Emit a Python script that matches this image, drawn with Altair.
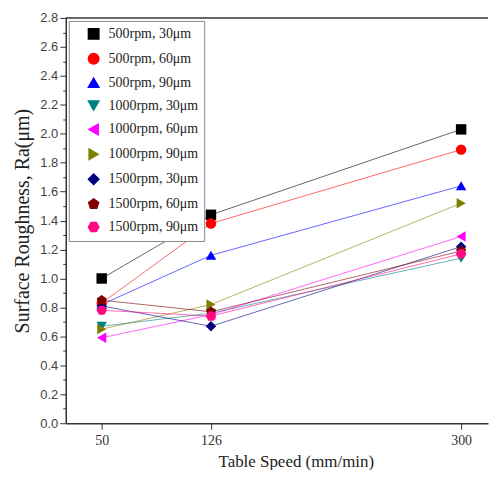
import altair as alt
import pandas as pd

speeds = [50, 126, 300]
series = ["500rpm, 30μm", "500rpm, 60μm", "500rpm, 90μm",
          "1000rpm, 30μm", "1000rpm, 60μm", "1000rpm, 90μm",
          "1500rpm, 30μm", "1500rpm, 60μm", "1500rpm, 90μm"]
s500_30 = [1.00, 1.44, 2.03]
s500_60 = [0.83, 1.38, 1.89]
s500_90 = [0.82, 1.16, 1.64]
s1000_30 = [0.67, 0.76, 1.14]
s1000_60 = [0.59, 0.75, 1.29]
s1000_90 = [0.65, 0.82, 1.52]
s1500_30 = [0.81, 0.67, 1.22]
s1500_60 = [0.85, 0.77, 1.19]
s1500_90 = [0.78, 0.74, 1.17]
all_vals = [s500_30, s500_60, s500_90, s1000_30, s1000_60, s1000_90,
            s1500_30, s1500_60, s1500_90]

colors = ["#000000", "#FF0000", "#0000FF", "#008080", "#FF00FF",
          "#808000", "#000080", "#800000", "#FF0A80"]
pent = "M0,-1L0.951,-0.309L0.588,0.809L-0.588,0.809L-0.951,-0.309Z"
hexa = "M-1,0L-0.5,-0.866L0.5,-0.866L1,0L0.5,0.866L-0.5,0.866Z"
shapes = ["square", "circle", "triangle-up", "triangle-down", "triangle-left",
          "triangle-right", "diamond", pent, hexa]

y_ticks = [round(i * 0.1, 1) for i in range(29)]

rows = []
for name, vals in zip(series, all_vals):
    for s, v in zip(speeds, vals):
        rows.append({"series": name, "speed": s, "ra": v})
df = pd.DataFrame(rows)

x_scale = alt.Scale(domain=[25, 318.7], nice=False, zero=False)
y_scale = alt.Scale(domain=[0, 2.8], nice=False)
x_axis = alt.Axis(values=speeds, title="Table Speed (mm/min)",
                  labelFont="Liberation Serif", labelFontSize=14,
                  titleFont="Liberation Serif", titleFontSize=17,
                  titleFontWeight="normal", titleX=231,
                  tickSize=6, labelPadding=4, titlePadding=6,
                  grid=False, domainColor="#333", domainWidth=1.5,
                  tickColor="#333", labelColor="#333", titleColor="#222")
y_axis = alt.Axis(values=y_ticks, title="Surface Roughness, Ra(μm)",
                  labelExpr="round(datum.value*10)%2===0 ? format(datum.value,'.1f') : ''",
                  labelOverlap=False,
                  tickSize={"condition": {"test": "round(datum.value*10)%2===1", "value": 3}, "value": 6},
                  labelFont="Liberation Sans", labelFontSize=13,
                  titleFont="Liberation Serif", titleFontSize=20,
                  titleFontWeight="normal", titlePadding=7,
                  grid=False, domainColor="#333", domainWidth=1.5,
                  tickColor="#333", labelColor="#444", titleColor="#222")

x_enc = alt.X("speed:Q", scale=x_scale, axis=x_axis)
y_enc = alt.Y("ra:Q", scale=y_scale, axis=y_axis)

legend = alt.Legend(title=None, orient="top-left", offset=3,
                    labelFont="Liberation Serif", labelFontSize=14,
                    labelColor="#222", symbolSize=110,
                    symbolOpacity=1, rowPadding=7,
                    symbolOffset=12, labelOffset=8,
                    padding=6, fillColor="white",
                    strokeColor="#888", labelLimit=200)
color_scale = alt.Scale(domain=series, range=colors)
shape_scale = alt.Scale(domain=series, range=shapes)

lines = alt.Chart(df).mark_line(strokeWidth=1, opacity=0.6).encode(
    x=x_enc, y=y_enc,
    color=alt.Color("series:N", scale=color_scale, legend=legend),
)

points = alt.Chart(df).mark_point(filled=True, size=110, opacity=1).encode(
    x=x_enc, y=y_enc,
    color=alt.Color("series:N", scale=color_scale, legend=legend),
    shape=alt.Shape("series:N", scale=shape_scale, legend=legend),
)

top = alt.Chart(pd.DataFrame({"v": [2.8]})).mark_rule(color="#333", strokeWidth=1.5).encode(
    y=alt.Y("v:Q", scale=y_scale, axis=y_axis)
)

chart = alt.layer(lines, points, top).properties(
    width=424, height=407,
    padding={"left": 4, "top": 3, "right": 0, "bottom": 0},
).configure_view(stroke=None)

chart.save("out.html", embed_options={"renderer": "svg", "actions": False})
